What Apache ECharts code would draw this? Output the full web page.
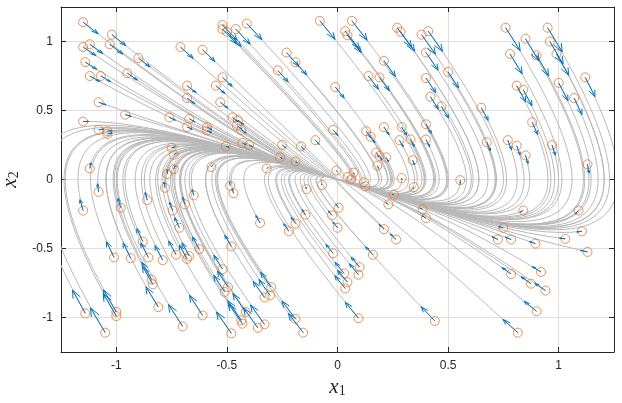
<!DOCTYPE html>
<html>
<head>
<meta charset="utf-8">
<script src="https://cdn.jsdelivr.net/npm/echarts@6/dist/echarts.min.js"></script>
<style>
html, body { margin: 0; padding: 0; background: #fff; }
#main { width: 622px; height: 403px; }
</style>
</head>
<body>
<div id="main"></div>
<script>
// start points of the trajectories (orange circles), [x1, x2]
var starts = [
  [-1.15,1.14],[-1.02,1.05],[-1.15,0.96],[-1.12,0.98],[-1.03,0.98],[-0.90,0.88],[-1.14,0.85],[-1.12,0.75],[-1.07,0.75],[-0.95,0.77],
  [-1.08,0.56],[-1.15,0.42],[-0.96,0.47],[-1.08,0.36],[-1.04,0.35],[-1.04,0.33],[-1.12,0.08],[-0.76,0.45],[-0.68,0.68],[-0.68,0.59],
  [-0.71,0.96],[-0.61,0.94],[-0.67,0.44],[-0.68,0.38],[-0.59,0.38],[-0.59,0.355],[-0.75,0.23],[-0.74,0.18],[-0.77,0.04],[-0.74,0.075],
  [-0.57,0.09],[-0.505,0.24],[-0.52,1.12],[-0.52,1.09],[-0.50,1.07],[-0.46,1.09],[-0.41,1.13],[-0.52,0.74],[-0.55,0.68],[-0.53,0.56],
  [-0.475,0.45],[-0.45,0.43],[-0.455,0.39],[-0.435,0.36],[-0.43,0.265],[-0.40,0.25],[-0.32,0.08],[-0.26,0.16],[-0.25,0.25],[-0.19,0.13],
  [-0.165,0.24],[-0.10,0.285],[-0.02,0.36],[-0.005,0.065],[-0.01,0.67],[-0.23,0.92],[-0.19,0.85],[-0.27,0.79],[-0.08,1.15],[0.065,1.15],
  [0.035,1.075],[0.045,1.045],[0.27,1.10],[0.285,1.07],[0.38,1.05],[0.41,1.075],[0.40,0.92],[0.21,0.86],[0.14,0.75],[0.19,0.74],
  [0.40,0.735],[0.50,0.78],[0.42,0.60],[0.47,0.53],[0.65,0.52],[0.76,1.10],[0.85,1.02],[0.78,0.91],[0.95,1.10],[0.96,1.00],
  [0.90,0.90],[0.99,0.91],[0.81,0.68],[0.84,0.65],[1.00,0.70],[1.12,0.74],[1.07,0.59],[0.88,0.415],[0.13,0.35],[0.15,0.31],
  [0.21,0.38],[0.29,0.38],[0.28,0.285],[0.33,0.29],[0.40,0.40],[0.40,0.29],[0.175,0.195],[0.19,0.17],[0.22,0.16],[0.18,0.10],
  [0.34,0.14],[0.675,0.27],[0.77,0.285],[0.81,0.245],[0.85,0.175],[0.97,0.25],[1.13,0.11],[0.046,0.02],[0.062,0.0],[0.073,0.05],
  [0.29,0.01],[0.555,-0.005],[-1.08,-0.09],[-1.15,-0.225],[-0.98,-0.205],[-0.86,-0.15],[-0.78,-0.06],[-0.745,-0.225],[-0.69,-0.18],[-0.65,-0.115],
  [-0.715,-0.35],[-0.88,-0.45],[-1.01,-0.565],[-0.935,-0.57],[-0.855,-0.565],[-0.79,-0.585],[-0.73,-0.545],[-0.68,-0.575],[-0.67,-0.555],[-0.625,-0.505],
  [-0.84,-0.725],[-0.835,-0.76],[-0.81,-0.925],[-1.14,-0.97],[-1.00,-0.96],[-1.00,-0.99],[-1.05,-1.11],[-0.70,-1.065],[-0.61,-0.985],[-0.485,-0.045],
  [-0.47,-0.10],[-0.48,-0.485],[-0.52,-0.65],[-0.495,-0.78],[-0.51,-0.815],[-0.415,-0.96],[-0.435,-1.02],[-0.43,-1.045],[-0.48,-1.115],[-0.36,-1.075],
  [-0.33,-1.05],[-0.33,-0.855],[-0.305,-0.84],[-0.30,-0.78],[-0.35,-0.315],[-0.22,-0.375],[-0.19,-0.32],[-0.145,-0.255],[-0.14,-0.07],[-0.07,-0.04],
  [-0.025,-0.26],[0.0,-0.35],[-0.02,-0.535],[-0.19,-1.01],[-0.155,-1.11],[0.005,-0.205],[0.12,-0.02],[0.125,-0.05],[0.345,-0.055],[0.255,-0.11],
  [0.23,-0.18],[0.385,-0.215],[0.40,-0.28],[0.21,-0.36],[0.265,-0.435],[0.16,-0.545],[0.10,-0.635],[0.095,-0.69],[0.03,-0.68],[0.045,-0.745],
  [0.035,-0.79],[0.095,-1.005],[0.44,-1.025],[0.84,-0.225],[1.09,-0.225],[0.75,-0.35],[0.725,-0.435],[0.785,-0.435],[0.895,-0.465],[1.03,-0.43],
  [1.105,-0.375],[1.13,-0.525],[0.785,-0.685],[0.92,-0.67],[0.875,-0.755],[0.94,-0.805],[0.90,-0.955],[0.815,-1.11]
];

// blue quiver arrows drawn from each start point, [dx1, dx2]
var arrows = [
  [0.068,-0.085],[0.063,-0.080],[0.058,-0.063],[0.059,-0.067],[0.059,-0.071],[0.053,-0.065],[0.051,-0.051],[0.045,-0.040],[0.045,-0.042],[0.046,-0.050],
  [0.034,-0.019],[0.025,0.001],[0.028,-0.013],[0.022,0.005],[0.021,0.005],[0.020,0.007],[0.005,0.041],[0.027,-0.020],[0.041,-0.051],[0.035,-0.040],
  [0.058,-0.083],[0.056,-0.085],[0.026,-0.023],[0.023,-0.015],[0.023,-0.019],[0.021,-0.016],[0.014,0.006],[0.011,0.012],[0.002,0.030],[0.005,0.024],
  [0.005,0.015],[0.014,-0.006],[0.067,-0.111],[0.065,-0.107],[0.064,-0.106],[0.065,-0.110],[0.068,-0.117],[0.044,-0.065],[0.041,-0.057],[0.034,-0.043],
  [0.027,-0.033],[0.026,-0.031],[0.023,-0.026],[0.022,-0.024],[0.016,-0.012],[0.015,-0.012],[0.005,0.005],[0.010,-0.008],[0.015,-0.019],[0.008,-0.007],
  [0.014,-0.021],[0.017,-0.030],[0.022,-0.042],[0.004,-0.008],[0.040,-0.080],[0.055,-0.100],[0.051,-0.093],[0.047,-0.083],[0.069,-0.134],[0.069,-0.141],
  [0.065,-0.131],[0.063,-0.127],[0.066,-0.144],[0.064,-0.141],[0.063,-0.143],[0.065,-0.147],[0.055,-0.128],[0.052,-0.113],[0.045,-0.096],[0.044,-0.097],
  [0.044,-0.106],[0.047,-0.116],[0.036,-0.091],[0.032,-0.085],[0.031,-0.092],[0.066,-0.166],[0.061,-0.161],[0.055,-0.144],[0.066,-0.175],[0.060,-0.163],
  [0.054,-0.149],[0.055,-0.154],[0.041,-0.118],[0.039,-0.116],[0.042,-0.129],[0.044,-0.139],[0.035,-0.119],[0.025,-0.089],[0.021,-0.048],[0.019,-0.044],
  [0.023,-0.055],[0.023,-0.059],[0.017,-0.047],[0.017,-0.050],[0.024,-0.066],[0.017,-0.053],[0.012,-0.031],[0.010,-0.029],[0.010,-0.029],[0.006,-0.020],
  [0.008,-0.032],[0.016,-0.063],[0.017,-0.069],[0.015,-0.066],[0.011,-0.059],[0.015,-0.074],[0.007,-0.064],[0.001,-0.005],[0.000,-0.003],[0.003,-0.009],
  [0.001,-0.014],[0.000,-0.024],[-0.005,0.059],[-0.014,0.079],[-0.012,0.069],[-0.009,0.057],[-0.004,0.042],[-0.014,0.061],[-0.011,0.053],[-0.007,0.043],
  [-0.021,0.074],[-0.027,0.094],[-0.034,0.113],[-0.034,0.111],[-0.034,0.106],[-0.035,0.106],[-0.033,0.098],[-0.035,0.100],[-0.033,0.097],[-0.030,0.089],
  [-0.044,0.125],[-0.046,0.129],[-0.056,0.147],[-0.058,0.168],[-0.058,0.160],[-0.059,0.164],[-0.067,0.180],[-0.064,0.159],[-0.059,0.146],[-0.003,0.027],
  [-0.006,0.033],[-0.029,0.080],[-0.039,0.101],[-0.047,0.116],[-0.049,0.121],[-0.058,0.134],[-0.061,0.142],[-0.063,0.145],[-0.067,0.155],[-0.065,0.145],
  [-0.063,0.141],[-0.051,0.117],[-0.050,0.115],[-0.047,0.107],[-0.019,0.054],[-0.023,0.055],[-0.019,0.047],[-0.015,0.037],[-0.004,0.015],[-0.002,0.008],
  [-0.016,0.032],[-0.021,0.042],[-0.032,0.065],[-0.061,0.130],[-0.067,0.140],[-0.012,0.024],[-0.001,-0.003],[-0.003,0.000],[-0.003,-0.009],[-0.007,0.002],
  [-0.011,0.011],[-0.013,0.008],[-0.017,0.016],[-0.022,0.034],[-0.026,0.040],[-0.033,0.058],[-0.038,0.072],[-0.041,0.079],[-0.041,0.080],[-0.045,0.087],
  [-0.047,0.093],[-0.060,0.116],[-0.062,0.103],[-0.014,-0.011],[-0.014,-0.022],[-0.021,0.008],[-0.026,0.020],[-0.026,0.017],[-0.028,0.016],[-0.026,0.005],
  [-0.023,-0.005],[-0.032,0.012],[-0.041,0.047],[-0.040,0.039],[-0.045,0.051],[-0.048,0.054],[-0.057,0.074],[-0.067,0.097]
];

// all trajectories end at the equilibrium
var target = [0, 0];
var tickValues = [-1, -0.5, 0, 0.5, 1];

var myChart = echarts.init(document.getElementById('main'));

// the grey curve leaves each circle along its arrow and ends at the target
var bend = 11.1;

var rows = starts.map(function (p, i) {
	return [p[0], p[1], arrows[i][0], arrows[i][1]];
});

function drawTrajectory(params, api) {
	var x = api.value(0), y = api.value(1);
	var cx = x + bend * api.value(2), cy = y + bend * api.value(3);
	var p0 = api.coord([x, y]);
	var p1 = api.coord([cx, cy]);
	var p2 = api.coord([(cx + target[0]) / 2, (cy + target[1]) / 2]);
	var p3 = api.coord(target);
	return {
		type: 'bezierCurve',
		shape: { x1: p0[0], y1: p0[1], cpx1: p1[0], cpy1: p1[1], cpx2: p2[0], cpy2: p2[1], x2: p3[0], y2: p3[1] },
		style: { stroke: '#b8b8b8', fill: 'none', lineWidth: 1 }
	};
}

function drawArrow(params, api) {
	var x = api.value(0), y = api.value(1), u = api.value(2), v = api.value(3);
	var a = 0.33, b = 0.3;
	var s = api.coord([x, y]);
	var t = api.coord([x + u, y + v]);
	var h1 = api.coord([x + u - a * (u + b * v), y + v - a * (v - b * u)]);
	var h2 = api.coord([x + u - a * (u - b * v), y + v - a * (v + b * u)]);
	return {
		type: 'group',
		children: [
			{ type: 'line', shape: { x1: s[0], y1: s[1], x2: t[0], y2: t[1] }, style: { stroke: '#0072bd', lineWidth: 1 } },
			{ type: 'polyline', shape: { points: [h1, t, h2] }, style: { stroke: '#0072bd', fill: 'none', lineWidth: 1 } }
		]
	};
}

var frame = '#262626';
var nameRich = {
	x: { fontFamily: 'Liberation Serif', fontStyle: 'italic', fontSize: 21, color: frame, lineHeight: 22 },
	s: { fontFamily: 'Liberation Serif', fontSize: 14, color: frame, lineHeight: 12, verticalAlign: 'bottom' }
};

function makeAxis(extra) {
	var ax = {
		type: 'value',
		min: -1.25,
		max: 1.25,
		axisLine: { show: true, onZero: false, lineStyle: { color: frame, width: 1 } },
		axisTick: { show: true, inside: true, length: 5, customValues: tickValues, lineStyle: { color: frame } },
		axisLabel: { customValues: tickValues, color: frame, fontSize: 12, fontFamily: 'Liberation Sans', margin: 8 },
		splitLine: { show: true, lineStyle: { color: '#dfdfdf', width: 1 } }
	};
	for (var k in extra) ax[k] = extra[k];
	return ax;
}

option = {
	animation: false,
	grid: {
		left: 61,
		right: 8,
		top: 7,
		bottom: 51,
		containLabel: false,
		outerBoundsMode: 'none'
	},
	xAxis: [
		makeAxis({
			position: 'bottom',
			name: '{x|x}{s|1}',
			nameLocation: 'middle',
			nameGap: 23,
			nameTextStyle: { rich: nameRich }
		}),
		makeAxis({ position: 'top', axisLabel: { show: false }, splitLine: { show: false } })
	],
	yAxis: [
		makeAxis({
			position: 'left',
			name: '{x|x}{s|2}',
			nameLocation: 'middle',
			nameGap: 34,
			nameTextStyle: { rich: nameRich }
		}),
		makeAxis({ position: 'right', axisLabel: { show: false }, splitLine: { show: false } })
	],
	series: [
		{
			type: 'custom',
			name: 'trajectories',
			renderItem: drawTrajectory,
			data: rows,
			encode: { x: 0, y: 1 },
			clip: true,
			silent: true,
			z: 2
		},
		{
			type: 'scatter',
			name: 'start',
			data: starts,
			symbol: 'circle',
			symbolSize: 9,
			itemStyle: { color: 'rgba(0,0,0,0)', borderColor: '#e6762a', borderWidth: 1 },
			silent: true,
			z: 3
		},
		{
			type: 'custom',
			name: 'field',
			renderItem: drawArrow,
			data: rows,
			encode: { x: 0, y: 1 },
			clip: true,
			silent: true,
			z: 4
		}
	]
};

myChart.setOption(option);
window.addEventListener("resize", function () {
	myChart.resize();
});
</script>
</body>
</html>
